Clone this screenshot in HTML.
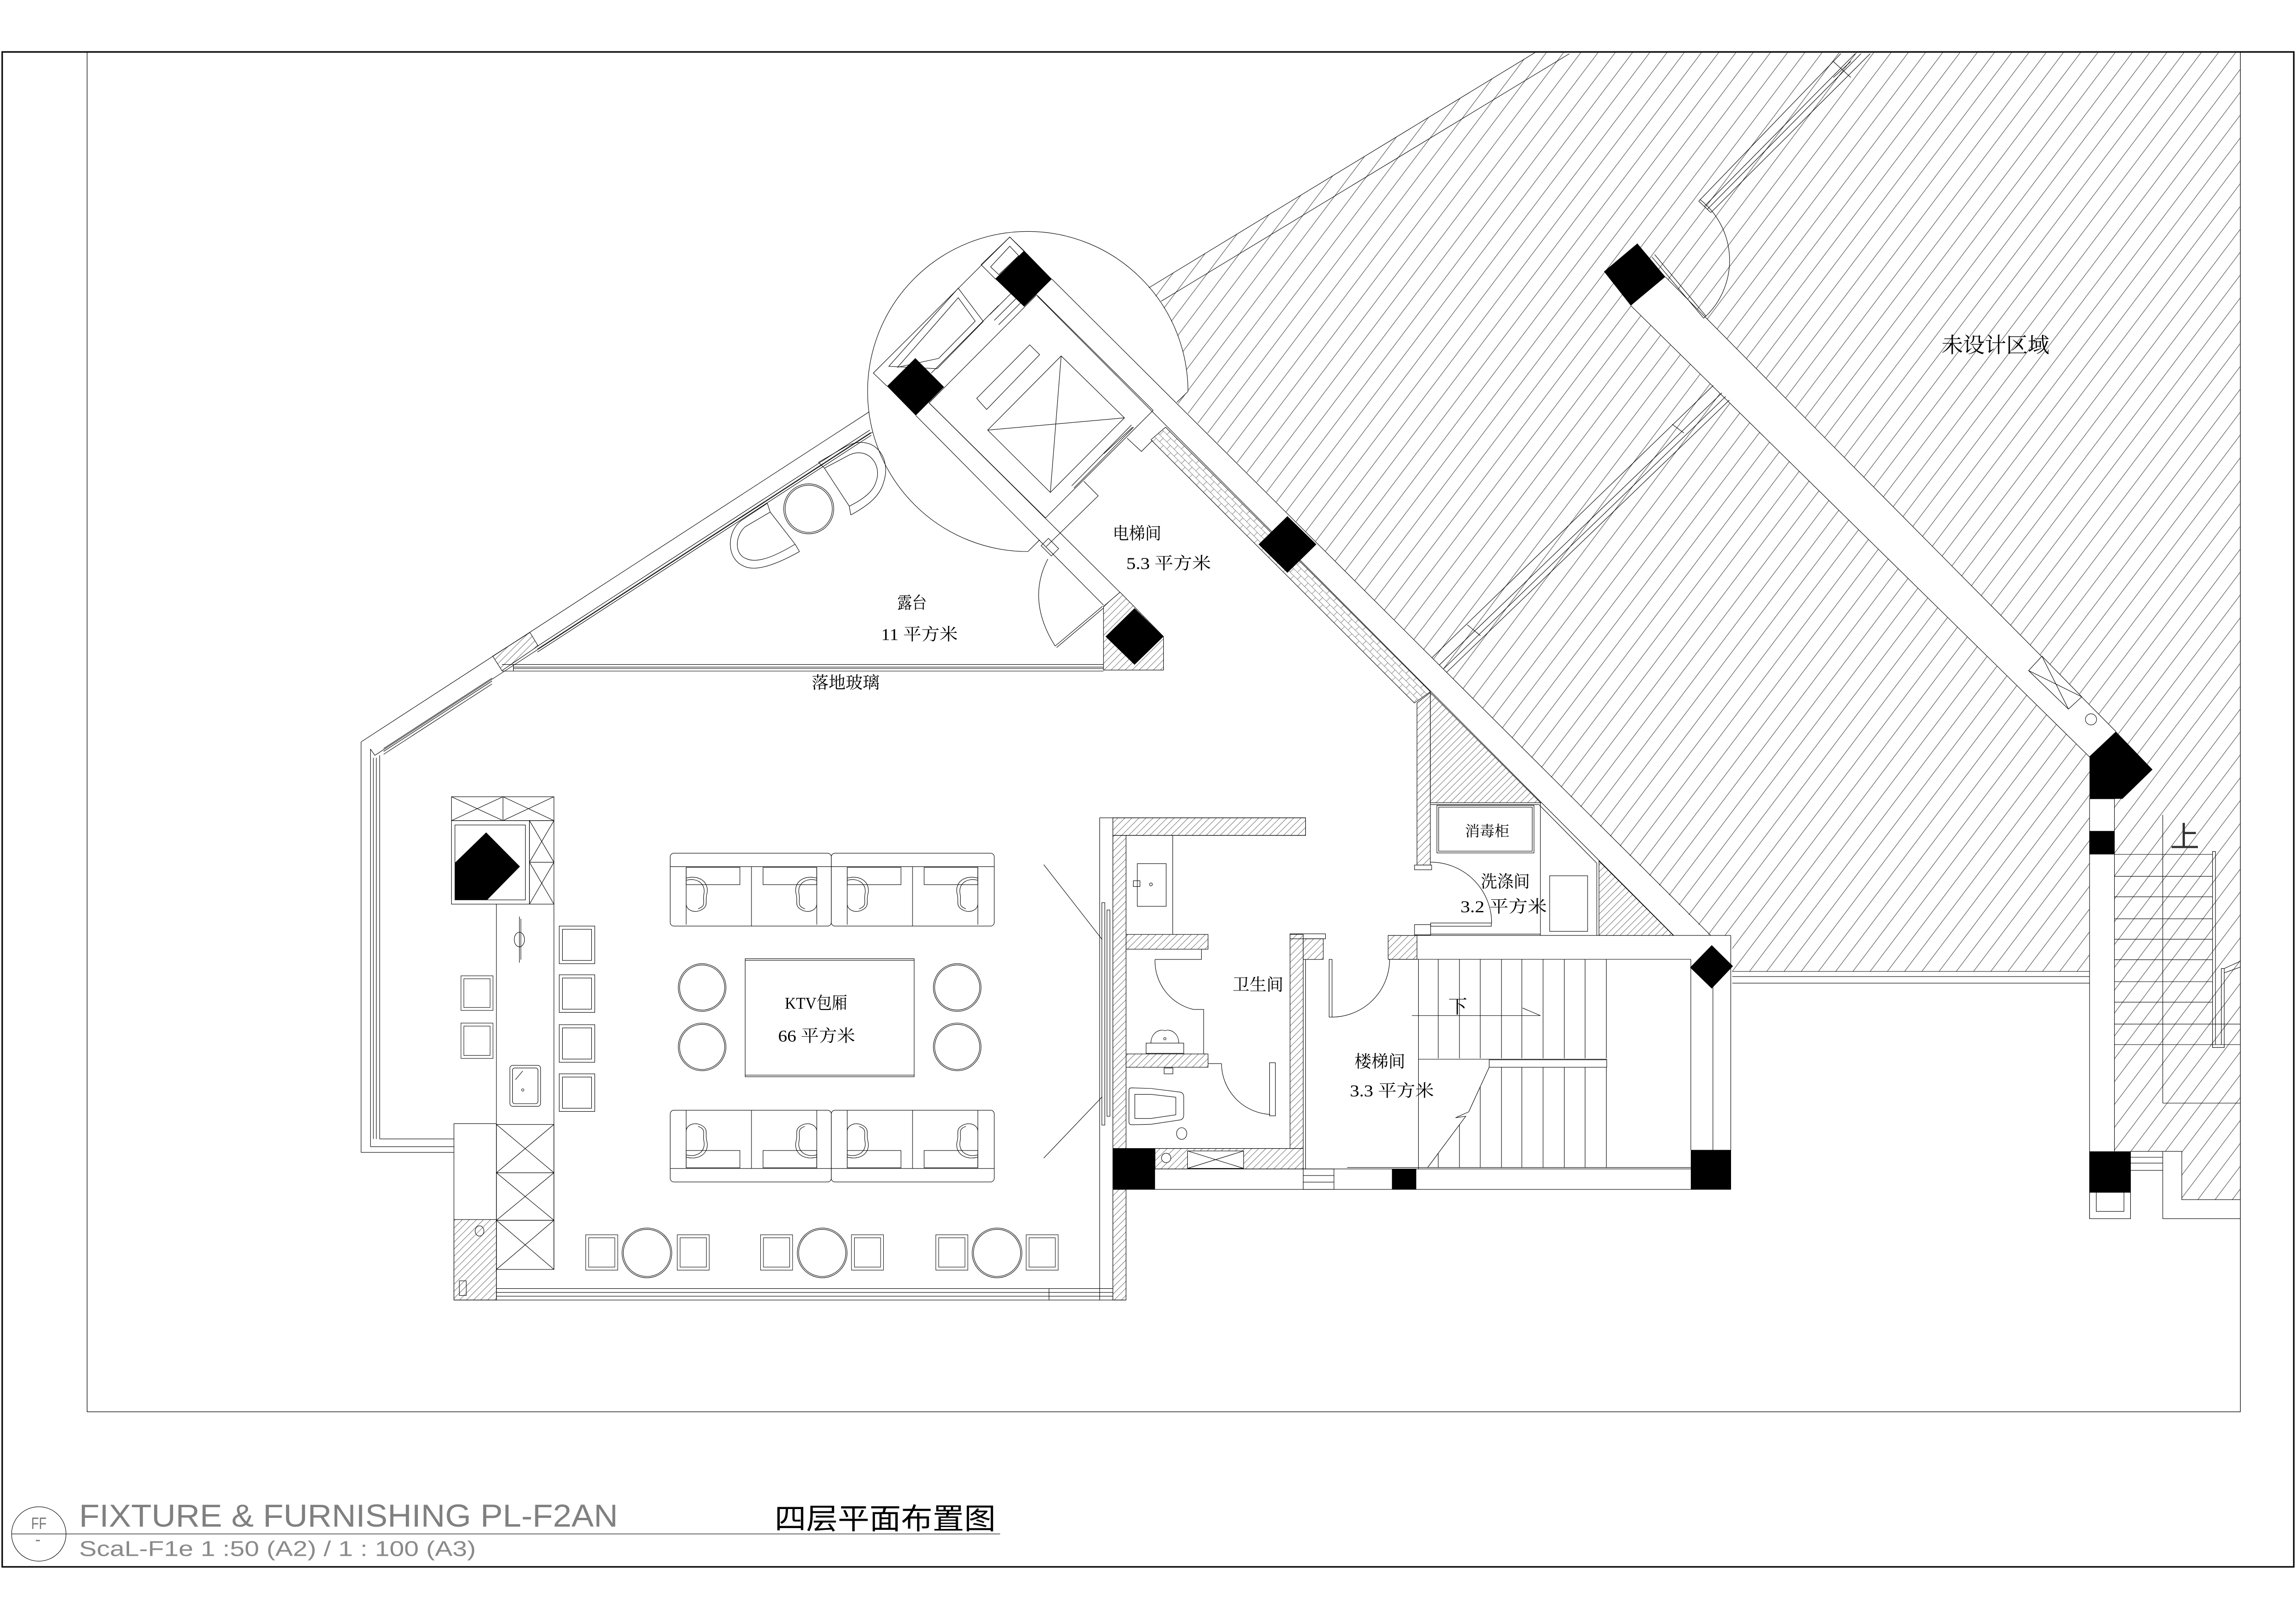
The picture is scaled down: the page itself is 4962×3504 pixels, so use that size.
<!DOCTYPE html>
<html>
<head>
<meta charset="utf-8">
<style>
html,body{margin:0;padding:0;background:#fff;}
svg{display:block;}
.cn{font-family:"Liberation Serif","Noto Serif CJK SC",serif;fill:#000;}
</style>
</head>
<body>
<svg width="4962" height="3504" viewBox="0 0 1568 1108" preserveAspectRatio="none" xmlns="http://www.w3.org/2000/svg">
<defs>
  <pattern id="h1" patternUnits="userSpaceOnUse" width="20" height="9.4" patternTransform="rotate(-53)">
    <line x1="0" y1="0.2" x2="20" y2="0.2" stroke="#333" stroke-width="0.3"/>
  </pattern>
  <pattern id="h2" patternUnits="userSpaceOnUse" width="10" height="3.4" patternTransform="rotate(-45)">
    <line x1="0" y1="0.2" x2="10" y2="0.2" stroke="#333" stroke-width="0.25"/>
  </pattern>
  <pattern id="h3" patternUnits="userSpaceOnUse" width="7" height="7" patternTransform="rotate(45)">
    <path d="M0 0.1H7M0 3.5H7M3.5 0V3.5M0.1 3.5V7" stroke="#555" stroke-width="0.25" fill="none"/>
  </pattern>
  <g id="seat" fill="none" stroke="#000" stroke-width="0.35">
    <rect x="10.9" y="9.7" width="36.7" height="11.8"/>
    <line x1="10.9" y1="9.7" x2="10.9" y2="48.8"/>
    <path d="M10.9,17 C20,14.5 27,20 25,28 C23.5,33 27,36.5 20,39.3 C15,41 11,38 10.9,35"/>
    <path d="M10.9,18.5 C18.5,16.5 24.5,21 23,28 C22,33 25,36 19,38"/>
  </g>
  <g id="stoolA" fill="none" stroke="#000" stroke-width="0.35">
    <rect x="0" y="0" width="24.3" height="25.7"/>
    <rect x="2.2" y="2.2" width="19.9" height="21.3"/>
  </g>
</defs>

<!-- big hatched undesigned region -->
<path d="M1048.2,36 L1530,36 L1530,820 L1490,820 L1490,787 L1444,787 L1444,546 L1427,546 L1427,664 L1183,664 L1183,639.4 L1167.3,639.4 L803.7,275 L811.3,267.6 A109.4,109.4 0 0 0 784.6,196.7 Z" fill="url(#h1)" stroke="none"/>
<!-- second wall band white -->
<polygon points="1113.7,208.9 1137.3,189.2 1445,500 1427,517.4" fill="#fff" stroke="none"/>

<g fill="none" stroke="#000" stroke-width="0.35">
  <!-- frames -->
  <rect x="1.5" y="35.5" width="1565" height="1035.5" stroke-width="1"/>
  <rect x="59.5" y="35.5" width="1470.5" height="929.5" stroke-width="0.4"/>

  <!-- top diagonal lines from circle -->
  <line x1="784.6" y1="196.7" x2="1048.2" y2="36"/>
  <line x1="793" y1="205.9" x2="1071.8" y2="36.7"/>

  <!-- elevator circle -->
  <path d="M702,377 A109.4,109.4 0 1 1 811.3,267.6"/>
  <line x1="811.3" y1="267.6" x2="803.7" y2="275"/>
  <line x1="702" y1="377" x2="710" y2="369"/>

  <!-- exterior diagonal wall L1/L2/L3 -->
  <line x1="718.3" y1="190.7" x2="1168.3" y2="639.4"/>
  <line x1="708.5" y1="202.5" x2="1143" y2="639.4"/>
  <polygon points="796,292 976.8,472.8 965.9,480.5 786,300.6" fill="url(#h3)"/>

  <!-- elevator structure -->
  <polyline points="605.8,264 596.4,255 689.6,162 699.4,171.5"/>
  <polygon points="670,180.9 689.6,162 699.4,171.8 679.8,190.7"/>
  <polygon points="676.5,182.4 689.6,168.3 695.7,174.8 682.1,187.7"/>
  <polygon points="607,250.4 654.4,197 671.5,219.7 640,252"/>
  <polygon points="613,251 654.4,203.5 666,219.5 641,245"/>
  <line x1="636" y1="255" x2="682" y2="208.8"/>
  <line x1="676" y1="215" x2="692" y2="199"/>
  <line x1="679" y1="219" x2="696" y2="202"/>
  <line x1="682" y1="222" x2="700" y2="204"/>
  <polygon points="634.5,275.4 708,201.5 787.5,280.5 714,354"/>
  <polygon points="667,272.3 703.2,235.7 710,242.4 673.8,279.9"/>
  <polygon points="674.5,294 724.7,243.3 767.9,285.6 717.3,336.6"/>
  <line x1="674.5" y1="294" x2="767.9" y2="285.6"/>
  <line x1="724.7" y1="243.3" x2="717.3" y2="336.6"/>
  <line x1="731.9" y1="332.1" x2="772.7" y2="290.5"/>
  <line x1="733.4" y1="333.6" x2="774.2" y2="292"/>
  <line x1="753.8" y1="310.1" x2="773.5" y2="292"/>
  <polyline points="769.7,299.5 779.5,308.6 787.1,301"/>
  <polyline points="714.5,373.6 750,338.9 740.2,329"/>
  <!-- wall between terrace & lobby -->
  <line x1="625.4" y1="284" x2="753.6" y2="413.6"/>
  <line x1="634.5" y1="275.4" x2="764.9" y2="404.9"/>
  <polygon points="711,373 716,368 723,375 718,380"/>
  <!-- lobby door to terrace -->
  <line x1="720.6" y1="441.6" x2="752.9" y2="414.4"/>
  <line x1="721.6" y1="442.6" x2="753.6" y2="415.6"/>
  <path d="M720.6,441.6 Q700.9,410.3 715.6,382.1"/>
  <polygon points="753.6,414.5 764.9,404.8 794.6,435.1 794.6,458 753.6,458" fill="url(#h2)"/>

  <!-- terrace exterior wall -->
  <line x1="246.6" y1="507.1" x2="593.6" y2="281.5"/>
  <line x1="262" y1="511.6" x2="336" y2="463.5"/>
  <line x1="262" y1="513.6" x2="336" y2="465.5"/>
  <line x1="262" y1="515.6" x2="336" y2="467.5"/>
  <line x1="367" y1="443.7" x2="594.6" y2="295.7"/>
  <line x1="367" y1="445.7" x2="595" y2="297.5"/>
  <line x1="367" y1="441.7" x2="594" y2="294"/>
  <line x1="256" y1="516.3" x2="595.8" y2="295.4"/>
  <polygon points="336.5,448.5 361.9,432.3 367.5,441.5 342.8,458.4" fill="url(#h2)"/>
  <!-- glass line -->
  <line x1="342.8" y1="454.2" x2="753.6" y2="454.2"/>
  <line x1="350.6" y1="456" x2="753.6" y2="456"/>
  <line x1="350.6" y1="457" x2="753.6" y2="457"/>
  <line x1="342.8" y1="458.7" x2="753.6" y2="458.7"/>
  <line x1="350.6" y1="454.2" x2="350.6" y2="458.7"/>

  <!-- terrace furniture -->
  <circle cx="552.3" cy="347.8" r="17.1"/>
  <circle cx="552.3" cy="347.8" r="16.1"/>
  <path d="M559,316 L578,305 C596,296 610,312 603,331 C600,340 592,346 581,352"/>
  <path d="M563,320 L580,311 C593,305 603,318 598,330 C596,336 590,341 580,346"/>
  <line x1="563" y1="320" x2="580" y2="346"/>
  <line x1="559" y1="316" x2="563" y2="320"/>
  <line x1="581" y1="352" x2="580" y2="346"/>
  <path d="M524,344 L506,356 C496,364 496,382 508,387 C516,391 530,386 546,377"/>
  <path d="M526,350 L509,360 C502,366 501,379 510,382 C517,385 528,381 543,372"/>
  <line x1="526" y1="350" x2="543" y2="372"/>
  <line x1="524" y1="344" x2="526" y2="350"/>
  <line x1="546" y1="377" x2="543" y2="372"/>

  <!-- left exterior wall -->
  <line x1="246.6" y1="507.1" x2="246.6" y2="787.7"/>
  <line x1="253" y1="512" x2="253" y2="783.8"/>
  <line x1="255" y1="518" x2="255" y2="778.5"/>
  <line x1="257" y1="518" x2="257" y2="778.5"/>
  <line x1="259.3" y1="516.3" x2="259.3" y2="778.5"/>
  <line x1="253" y1="512" x2="256" y2="516.3"/>
  <line x1="246.6" y1="787.7" x2="310" y2="787.7"/>
  <line x1="253" y1="783.8" x2="310" y2="783.8"/>
  <line x1="259.3" y1="778.5" x2="310" y2="778.5"/>
  <line x1="310" y1="768" x2="310" y2="888.6"/>
  <line x1="310" y1="768" x2="339" y2="768"/>
  <rect x="310" y="833.6" width="29" height="55" fill="url(#h2)"/>
  <rect x="313.7" y="875.5" width="4.7" height="10"/>
  <ellipse cx="327.5" cy="841.4" rx="3" ry="3.5"/>

  <!-- bar counter -->
  <rect x="308.3" y="544.6" width="70" height="16.3"/>
  <line x1="343.5" y1="544.6" x2="343.5" y2="560.9"/>
  <line x1="308.3" y1="544.6" x2="343.5" y2="560.9"/>
  <line x1="343.5" y1="544.6" x2="308.3" y2="560.9"/>
  <line x1="343.5" y1="544.6" x2="378.3" y2="560.9"/>
  <line x1="378.3" y1="544.6" x2="343.5" y2="560.9"/>
  <rect x="308.3" y="560.9" width="53.3" height="57.1"/>
  <rect x="310.7" y="563.9" width="48.1" height="51.2"/>
  <rect x="361.6" y="560.9" width="16.7" height="28.5"/>
  <rect x="361.6" y="589.4" width="16.7" height="28.6"/>
  <line x1="361.6" y1="560.9" x2="378.3" y2="589.4"/>
  <line x1="378.3" y1="560.9" x2="361.6" y2="589.4"/>
  <line x1="361.6" y1="589.4" x2="378.3" y2="618"/>
  <line x1="378.3" y1="589.4" x2="361.6" y2="618"/>
  <line x1="339" y1="618" x2="339" y2="888.6"/>
  <line x1="378.3" y1="618" x2="378.3" y2="867.7"/>
  <line x1="354.7" y1="626.5" x2="354.7" y2="658"/>
  <line x1="355.7" y1="628" x2="355.7" y2="656"/>
  <ellipse cx="354.7" cy="642.2" rx="3.5" ry="5"/>
  <rect x="348.2" y="728.2" width="21" height="28" rx="2"/>
  <rect x="350" y="730" width="17.4" height="24.4" rx="1.5"/>
  <line x1="352" y1="738" x2="357" y2="732"/>
  <circle cx="357" cy="745" r="0.8"/>
  <rect x="339" y="768.6" width="39.3" height="33"/>
  <rect x="339" y="801.6" width="39.3" height="32.5"/>
  <rect x="339" y="834.1" width="39.3" height="33.6"/>
  <line x1="339" y1="768.6" x2="378.3" y2="801.6"/>
  <line x1="378.3" y1="768.6" x2="339" y2="801.6"/>
  <line x1="339" y1="801.6" x2="378.3" y2="834.1"/>
  <line x1="378.3" y1="801.6" x2="339" y2="834.1"/>
  <line x1="339" y1="834.1" x2="378.3" y2="867.7"/>
  <line x1="378.3" y1="834.1" x2="339" y2="867.7"/>

  <!-- KTV bottom wall -->
  <line x1="339" y1="880.8" x2="760" y2="880.8"/>
  <line x1="339" y1="883.4" x2="760" y2="883.4"/>
  <line x1="339" y1="886" x2="760" y2="886"/>
  <line x1="310" y1="888.6" x2="769" y2="888.6"/>
  <line x1="716.4" y1="880.8" x2="716.4" y2="888.6"/>
  <rect x="760" y="813" width="9" height="75.6" fill="url(#h2)"/>

  <!-- KTV diagonal lines -->
  <line x1="712.8" y1="591" x2="752.7" y2="642.2"/>
  <line x1="712.8" y1="791.6" x2="752.7" y2="749.7"/>

  <!-- sofas -->
  <rect x="457.7" y="583.2" width="110" height="49.8" rx="2.5"/>
  <rect x="567.7" y="583.2" width="111.3" height="49.8" rx="2.5"/>
  <line x1="457.7" y1="592.4" x2="679" y2="592.4"/>
  <line x1="513.2" y1="592.4" x2="513.2" y2="633"/>
  <line x1="623.2" y1="592.4" x2="623.2" y2="633"/>
  <rect x="457.7" y="758.9" width="110" height="49" rx="2.5"/>
  <rect x="567.7" y="758.9" width="111.3" height="49" rx="2.5"/>
  <line x1="457.7" y1="798.7" x2="679" y2="798.7"/>
  <line x1="513.2" y1="758.9" x2="513.2" y2="798.7"/>
  <line x1="623.2" y1="758.9" x2="623.2" y2="798.7"/>
</g>
<use href="#seat" transform="translate(457.7,583.2)"/>
<use href="#seat" transform="translate(568.7,583.2) scale(-1,1)"/>
<use href="#seat" transform="translate(567.7,583.2)"/>
<use href="#seat" transform="translate(678.7,583.2) scale(-1,1)"/>
<use href="#seat" transform="translate(457.7,807.9) scale(1,-1)"/>
<use href="#seat" transform="translate(568.7,807.9) scale(-1,-1)"/>
<use href="#seat" transform="translate(567.7,807.9) scale(1,-1)"/>
<use href="#seat" transform="translate(678.7,807.9) scale(-1,-1)"/>

<!-- stools -->
<use href="#stoolA" transform="translate(381.9,633)"/>
<use href="#stoolA" transform="translate(381.9,666.3)"/>
<use href="#stoolA" transform="translate(381.9,700.4)"/>
<use href="#stoolA" transform="translate(381.9,734)"/>
<use href="#stoolA" transform="translate(314.8,667) scale(0.9,0.92)"/>
<use href="#stoolA" transform="translate(314.8,699.3) scale(0.9,0.94)"/>
<use href="#stoolA" transform="translate(400,844) scale(0.9,0.94)"/>
<use href="#stoolA" transform="translate(462.5,844) scale(0.9,0.94)"/>
<use href="#stoolA" transform="translate(519.4,844) scale(0.9,0.94)"/>
<use href="#stoolA" transform="translate(581.5,844) scale(0.9,0.94)"/>
<use href="#stoolA" transform="translate(639.1,844) scale(0.9,0.94)"/>
<use href="#stoolA" transform="translate(700.8,844) scale(0.9,0.94)"/>

<g fill="none" stroke="#000" stroke-width="0.35">
  <!-- round stools & table -->
  <circle cx="479.5" cy="675" r="16.3"/><circle cx="479.5" cy="675" r="15.4"/>
  <circle cx="479.5" cy="715.6" r="16.3"/><circle cx="479.5" cy="715.6" r="15.4"/>
  <circle cx="653.7" cy="675" r="16.3"/><circle cx="653.7" cy="675" r="15.4"/>
  <circle cx="653.7" cy="715.6" r="16.3"/><circle cx="653.7" cy="715.6" r="15.4"/>
  <rect x="508.9" y="655.3" width="115.4" height="80.7"/>
  <line x1="508.9" y1="656.4" x2="624.3" y2="656.4"/>
  <line x1="508.9" y1="734.9" x2="624.3" y2="734.9"/>
  <circle cx="441.8" cy="856.4" r="17"/><circle cx="441.8" cy="856.4" r="16.1"/>
  <circle cx="561.5" cy="856.4" r="17"/><circle cx="561.5" cy="856.4" r="16.1"/>
  <circle cx="680.9" cy="856.4" r="17"/><circle cx="680.9" cy="856.4" r="16.1"/>

  <!-- toilet block -->
  <line x1="751" y1="559" x2="751" y2="888.6"/>
  <line x1="760" y1="559" x2="760" y2="888.6"/>
  <polyline points="751,559 891.6,559 891.6,571 769,571"/>
  <rect x="760" y="559" width="131.6" height="12" fill="url(#h2)"/>
  <rect x="760" y="571" width="9" height="214" fill="url(#h2)"/>
  <rect x="752.5" y="617" width="2" height="152"/>
  <rect x="756" y="622" width="2" height="141"/>
  <line x1="800.9" y1="571" x2="800.9" y2="638.7"/>
  <rect x="776.7" y="590.3" width="19.7" height="29.2"/>
  <rect x="774" y="602" width="4.5" height="4"/>
  <circle cx="786" cy="604.5" r="1"/>
  <rect x="769" y="638.7" width="56" height="10.1" fill="url(#h2)"/>
  <rect x="769" y="720.4" width="56" height="9.1" fill="url(#h2)"/>
  <polyline points="788.8,655.8 820.5,655.8 820.5,648.8"/>
  <path d="M788.8,655.8 A34,34 0 0 0 815,690"/>
  <polyline points="815,690 822,690 822,720.4"/>
  <rect x="782.7" y="713" width="25.7" height="7"/>
  <path d="M786,713 C786,706 792,703 795.5,704.5 C799,703 805,706 805,713"/>
  <circle cx="795.5" cy="710" r="0.8"/>
  <path d="M771,745 Q771,743.6 773,743.6 L786,744 L806,746.5 Q808.4,747 808.4,750 L808.4,762 Q808.4,765 806,765.5 L786,768.5 L773,768.8 Q771,768.8 771,767 Z"/>
  <path d="M775,748 L786,748 L803,750 L803,762 L786,764.5 L775,764.5 Z"/>
  <ellipse cx="807" cy="774.8" rx="3.5" ry="4"/>
  <rect x="795" y="730" width="6" height="4"/>
  <rect x="867" y="726.4" width="4" height="36.3"/>
  <path d="M834.2,727 A35,35 0 0 0 867.4,761.7"/>
  <line x1="825" y1="727" x2="834.2" y2="727"/>
  <rect x="881" y="638.7" width="9" height="146.3" fill="url(#h2)"/>
  <line x1="891.6" y1="655.8" x2="891.6" y2="799"/>
  <rect x="881" y="638.3" width="24.2" height="3.4"/>
  <rect x="890" y="641.7" width="13.7" height="14.1" fill="url(#h2)"/>
  <rect x="788.8" y="785" width="101.2" height="14" fill="url(#h2)"/>
  <line x1="769" y1="785" x2="890" y2="785"/>
  <circle cx="796.4" cy="791.5" r="3.2" fill="#fff"/>
  <rect x="811" y="786.7" width="38.3" height="11.9" fill="#fff"/>
  <line x1="811" y1="786.7" x2="849.3" y2="798.6"/>
  <line x1="849.3" y1="786.7" x2="811" y2="798.6"/>
  <line x1="788.8" y1="799" x2="1154.7" y2="799"/>
  <line x1="760" y1="813" x2="1182" y2="813"/>
  <rect x="890" y="799" width="21" height="14"/>
  <line x1="890" y1="803.5" x2="911" y2="803.5"/>
  <line x1="890" y1="808" x2="911" y2="808"/>

  <!-- stair room -->
  <line x1="948" y1="639.4" x2="1182" y2="639.4"/>
  <line x1="948" y1="655.7" x2="1154.7" y2="655.7"/>
  <rect x="948" y="639.4" width="19.7" height="16.3" fill="url(#h2)"/>
  <line x1="1154.7" y1="655.7" x2="1154.7" y2="786"/>
  <line x1="1169.8" y1="655.7" x2="1169.8" y2="786"/>
  <line x1="1182" y1="639.4" x2="1182" y2="813"/>
  <line x1="968.7" y1="655.8" x2="968.7" y2="799"/>
  <line x1="982.2" y1="655.8" x2="982.2" y2="723.4"/>
  <line x1="996.7" y1="655.8" x2="996.7" y2="723.4"/>
  <line x1="1010.9" y1="655.8" x2="1010.9" y2="723.4"/>
  <line x1="1025.4" y1="655.8" x2="1025.4" y2="723.4"/>
  <line x1="1039.3" y1="655.8" x2="1039.3" y2="723.4"/>
  <line x1="1053.8" y1="655.8" x2="1053.8" y2="723.4"/>
  <line x1="1068.3" y1="655.8" x2="1068.3" y2="723.4"/>
  <line x1="1082.5" y1="655.8" x2="1082.5" y2="723.4"/>
  <line x1="1097" y1="655.8" x2="1097" y2="723.4"/>
  <line x1="968.7" y1="724" x2="1097.3" y2="724"/>
  <rect x="1017" y="724.4" width="80.3" height="5.1"/>
  <line x1="1025.4" y1="729.5" x2="1025.4" y2="798"/>
  <line x1="1039.3" y1="729.5" x2="1039.3" y2="798"/>
  <line x1="1053.8" y1="729.5" x2="1053.8" y2="798"/>
  <line x1="1068.3" y1="729.5" x2="1068.3" y2="798"/>
  <line x1="1082.5" y1="729.5" x2="1082.5" y2="798"/>
  <line x1="1097" y1="729.5" x2="1097" y2="798"/>
  <line x1="1010.9" y1="742.8" x2="1010.9" y2="798"/>
  <line x1="996.7" y1="768.6" x2="996.7" y2="798"/>
  <line x1="982.2" y1="788.2" x2="982.2" y2="798"/>
  <polyline points="1017,729.5 1003,760 994,764 1001,763 975,798"/>
  <line x1="920" y1="798" x2="1154.7" y2="798"/>
  <line x1="964.2" y1="694.2" x2="1052" y2="694.2"/>
  <line x1="1039.8" y1="689" x2="1052" y2="694.2"/>
  <rect x="907.7" y="655.8" width="2" height="39.4"/>
  <path d="M909.7,695.2 A39.5,39.5 0 0 0 949,655.8"/>

  <!-- washing room -->
  <polygon points="967.7,480.5 976.8,473.4 976.8,591.3 967.7,591.3" fill="url(#h2)"/>
  <rect x="966" y="591.3" width="11.7" height="3.2"/>
  <polygon points="976.8,473.4 1052.1,548.7 976.8,548.7" fill="url(#h2)"/>
  <polygon points="1092,588.6 1142.8,639.4 1092,639.4" fill="url(#h2)"/>
  <line x1="976.8" y1="550" x2="1051" y2="550"/>
  <line x1="1051" y1="550" x2="1090.5" y2="590"/>
  <line x1="1090.5" y1="590" x2="1090.5" y2="639.4"/>
  <rect x="981.3" y="550.5" width="66.3" height="32.5"/>
  <rect x="982.5" y="551.7" width="63.9" height="30.1"/>
  <line x1="1052" y1="548.7" x2="1052" y2="639.4"/>
  <rect x="1058.3" y="598.6" width="25.9" height="38"/>
  <path d="M977,589.3 A41.7,41.7 0 0 1 1018.7,631"/>
  <rect x="977" y="630.9" width="41.5" height="2.2"/>
  <line x1="976.8" y1="638.5" x2="1052" y2="638.5"/>
  <rect x="966" y="632" width="11" height="7"/>

  <!-- window band between walls -->
  <line x1="978" y1="449.5" x2="1170" y2="263.5"/>
  <line x1="983" y1="454.5" x2="1176" y2="268.5"/>
  <line x1="986" y1="457" x2="1178.5" y2="271"/>
  <line x1="988" y1="459.5" x2="1181" y2="273.5"/>
  <line x1="1002" y1="427" x2="1011" y2="434.5"/>
  <line x1="1142" y1="290" x2="1150" y2="296"/>

  <!-- second wall -->
  <line x1="1113.7" y1="208.9" x2="1427" y2="517.4"/>
  <line x1="1137.3" y1="189.2" x2="1445" y2="500"/>
  <line x1="1128.1" y1="175.6" x2="1163.5" y2="217.5"/>
  <line x1="1130" y1="174" x2="1165" y2="216"/>
  <path d="M1163.5,217.5 A53,53 0 0 0 1160.9,136.3"/>
  <line x1="1160.1" y1="137.5" x2="1257.2" y2="36.6"/>
  <line x1="1164" y1="141" x2="1267" y2="36.6"/>
  <line x1="1166" y1="143" x2="1271" y2="36.6"/>
  <line x1="1168.4" y1="145.3" x2="1277.3" y2="36.6"/>
  <line x1="1160.1" y1="137.5" x2="1168.4" y2="145.3"/>
  <line x1="1252" y1="42" x2="1264" y2="53"/>
  <line x1="1264" y1="42" x2="1252" y2="53"/>
  <polygon points="1385.4,458.4 1394.5,448.5 1421.7,476.3 1412.6,484.7" fill="#fff"/>
  <line x1="1385.4" y1="458.4" x2="1421.7" y2="476.3"/>
  <line x1="1394.5" y1="448.5" x2="1412.6" y2="484.7"/>
  <circle cx="1428" cy="491.7" r="3.8" fill="#fff"/>

  <!-- right stair area -->
  <line x1="1427" y1="546" x2="1427" y2="833"/>
  <line x1="1444" y1="546" x2="1444" y2="787"/>
  <line x1="1427" y1="546" x2="1444" y2="546"/>
  <line x1="1455" y1="787" x2="1455" y2="833"/>
  <rect x="1427" y="815" width="28" height="18" fill="#fff"/>
  <rect x="1431.6" y="815" width="18.9" height="13"/>
  <line x1="1455" y1="787" x2="1477" y2="787"/>
  <line x1="1455" y1="791" x2="1477" y2="791"/>
  <line x1="1455" y1="795" x2="1477" y2="795"/>
  <line x1="1455" y1="800" x2="1477" y2="800"/>
  <polyline points="1477,787 1477,833 1530,833"/>
  <polyline points="1477,787 1490,787 1490,820 1530,820"/>
  <line x1="1477" y1="557" x2="1477" y2="754"/>
  <line x1="1477" y1="754" x2="1530" y2="754"/>
  <line x1="1444" y1="584" x2="1511" y2="584"/>
  <line x1="1444" y1="599" x2="1511" y2="599"/>
  <line x1="1444" y1="613" x2="1511" y2="613"/>
  <line x1="1444" y1="628" x2="1511" y2="628"/>
  <line x1="1444" y1="642" x2="1511" y2="642"/>
  <line x1="1444" y1="656" x2="1511" y2="656"/>
  <line x1="1444" y1="671" x2="1511" y2="671"/>
  <line x1="1444" y1="685" x2="1511" y2="685"/>
  <line x1="1444" y1="700" x2="1530" y2="700"/>
  <line x1="1444" y1="714" x2="1530" y2="714"/>
  <polygon points="1511,582 1511,716 1519,716 1519,662 1517,662 1517,714 1513,714 1513,582"/>
  <line x1="1519" y1="662" x2="1530" y2="657"/>
  <line x1="1519" y1="665" x2="1530" y2="661"/>
  <line x1="1183" y1="664" x2="1427" y2="664"/>
  <line x1="1183" y1="667.5" x2="1427" y2="667.5"/>
  <line x1="1183" y1="672" x2="1427" y2="672"/>

  <!-- title block -->
  <circle cx="26.5" cy="1048.5" r="18.6"/>
  <line x1="8" y1="1048.5" x2="683" y2="1048.5"/>
</g>

<!-- black columns -->
<g fill="#000" stroke="none">
  <polygon points="679.8,190.7 699.4,171.3 718.3,190.7 699.4,209.6"/>
  <polygon points="605.8,264 625.1,244.8 644.7,264.5 625.4,284"/>
  <polygon points="755,435.1 774.8,415.7 794.6,435.1 774.8,454.4"/>
  <polygon points="859.5,372.1 879.2,352.8 899,372.1 879.2,391.5"/>
  <polygon points="1095.4,185.6 1118.2,166.4 1137.3,189.2 1113.7,208.9"/>
  <polygon points="1427,517 1445,500 1470,526 1449.5,546 1427,546"/>
  <rect x="1427" y="568" width="17" height="16"/>
  <rect x="1427" y="787" width="28" height="28"/>
  <polygon points="1154.2,661.3 1169,646 1183.5,660.4 1169,675.7"/>
  <rect x="760" y="785" width="28.8" height="28"/>
  <rect x="950.6" y="799" width="16.6" height="14"/>
  <rect x="1154.7" y="786" width="27.3" height="27"/>
  <polygon points="310.7,589.7 332,569 355.1,592.3 332.7,615.1 310.7,615.1"/>
</g>

<!-- labels -->
<g class="cn">
  <text x="1325.9" y="241" font-size="14.5" textLength="73.7" lengthAdjust="spacingAndGlyphs">未设计区域</text>
  <text x="759.9" y="368.5" font-size="11.5" textLength="33.2" lengthAdjust="spacingAndGlyphs">电梯间</text>
  <text x="769.2" y="389" font-size="11.5" textLength="57.8" lengthAdjust="spacingAndGlyphs">5.3 平方米</text>
  <text x="612.8" y="416" font-size="11.5" textLength="20.1" lengthAdjust="spacingAndGlyphs">露台</text>
  <text x="601.7" y="437.5" font-size="11.5" textLength="52.4" lengthAdjust="spacingAndGlyphs">11 平方米</text>
  <text x="554.3" y="470.5" font-size="11.5" textLength="46.4" lengthAdjust="spacingAndGlyphs">落地玻璃</text>
  <text x="536" y="689.5" font-size="11.5" textLength="42.6" lengthAdjust="spacingAndGlyphs">KTV包厢</text>
  <text x="531.4" y="712" font-size="11.5" textLength="52.6" lengthAdjust="spacingAndGlyphs">66 平方米</text>
  <text x="841.7" y="677" font-size="11.5" textLength="34.8" lengthAdjust="spacingAndGlyphs">卫生间</text>
  <text x="925" y="729.5" font-size="11.5" textLength="34.7" lengthAdjust="spacingAndGlyphs">楼梯间</text>
  <text x="921.9" y="749.5" font-size="11.5" textLength="57.4" lengthAdjust="spacingAndGlyphs">3.3 平方米</text>
  <text x="1011.3" y="606.5" font-size="11.5" textLength="33.5" lengthAdjust="spacingAndGlyphs">洗涤间</text>
  <text x="997.4" y="623.5" font-size="11.5" textLength="59" lengthAdjust="spacingAndGlyphs">3.2 平方米</text>
  <text x="1000.5" y="571.5" font-size="10" textLength="30.2" lengthAdjust="spacingAndGlyphs">消毒柜</text>
  <text x="989" y="692.5" font-size="13">下</text>
  <text x="1482" y="579" font-size="20" fill="#333" style="font-family:'Noto Sans CJK SC',sans-serif">上</text>
</g>

<!-- title texts -->
<text x="54" y="1043.5" font-size="21.6" textLength="368" lengthAdjust="spacingAndGlyphs" fill="#808080" style="font-family:'Liberation Sans',sans-serif">FIXTURE &amp; FURNISHING PL-F2AN</text>
<text x="54" y="1063.5" font-size="14.6" textLength="271" lengthAdjust="spacingAndGlyphs" fill="#8a8a8a" style="font-family:'Liberation Sans',sans-serif">ScaL-F1e 1 :50 (A2) / 1 : 100 (A3)</text>
<text x="21.3" y="1045" font-size="11" textLength="10.5" lengthAdjust="spacingAndGlyphs" fill="#777" style="font-family:'Liberation Sans',sans-serif">FF</text>
<text x="24" y="1056" font-size="11" fill="#777" style="font-family:'Liberation Sans',sans-serif">-</text>
<text x="529" y="1045" font-size="20" textLength="151" lengthAdjust="spacingAndGlyphs" fill="#000" style="font-family:'Liberation Sans','Noto Sans CJK SC',sans-serif">四层平面布置图</text>
</svg>
</body>
</html>
